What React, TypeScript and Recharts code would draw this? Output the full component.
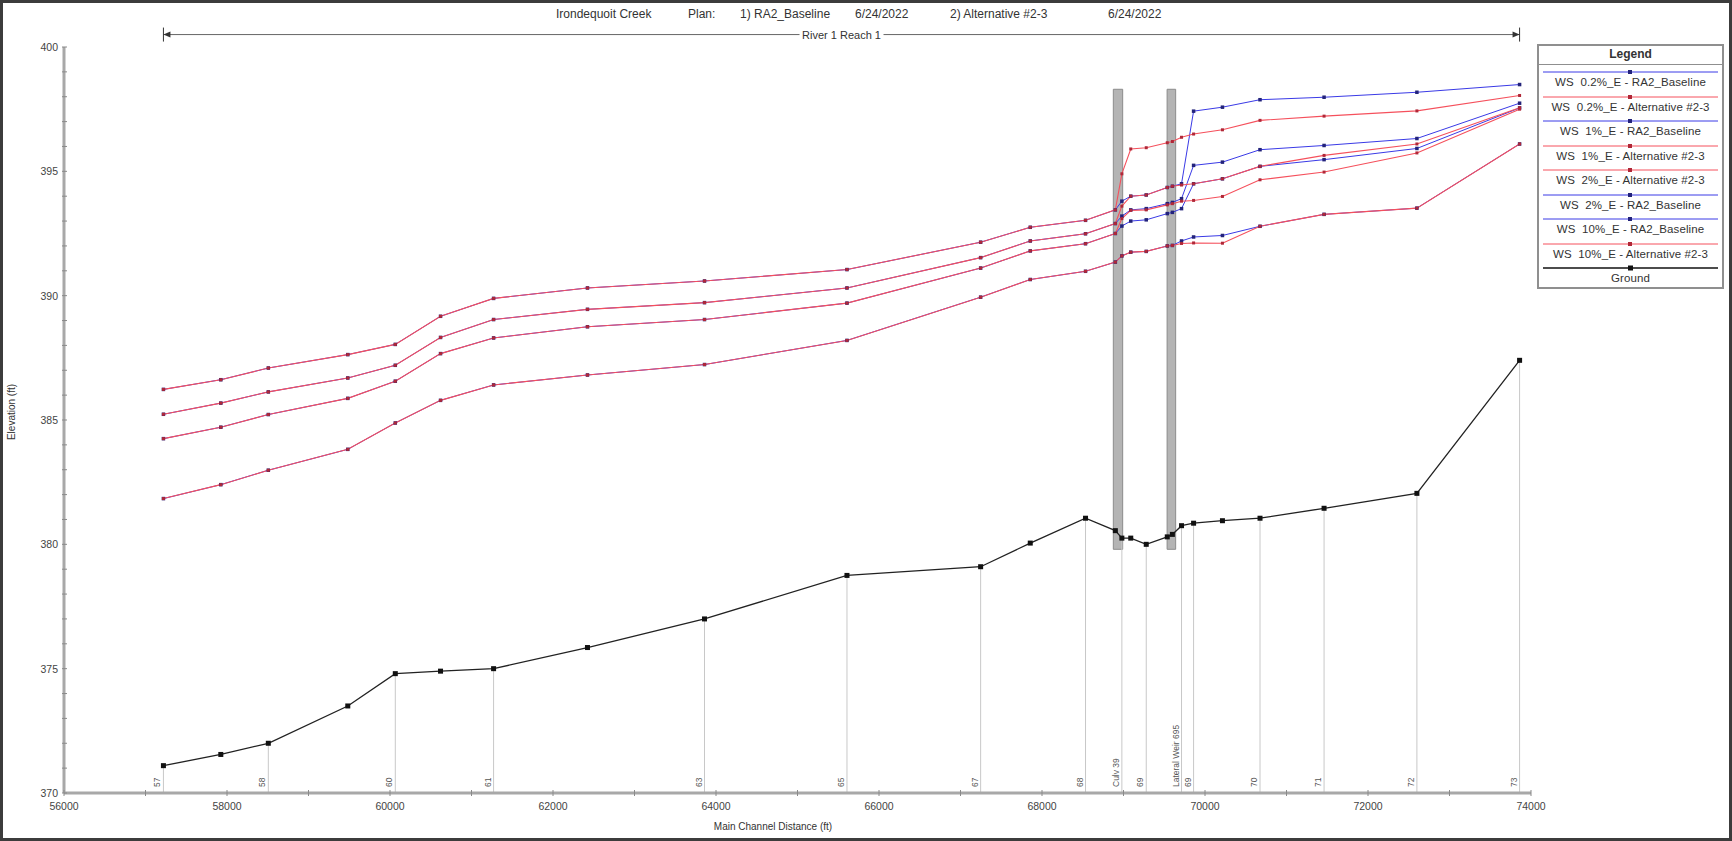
import React from "react";
import { LineChart, Line, XAxis, YAxis, ReferenceLine, ReferenceArea, ReferenceDot } from "recharts";

// main channel distance (ft) of every plotted cross section
const stations = [
  57220, 57924, 58507, 59482, 60065, 60620, 61271, 62423, 63859, 65607, 67247, 67856, 68534,
  68900, 68980, 69089, 69279, 69537, 69600, 69712, 69860, 70214, 70675, 71461, 72600, 73860,
];
const ground = [
  371.1, 371.55, 372.0, 373.5, 374.8, 374.9, 375.0, 375.85, 377.0, 378.75, 379.1, 380.05, 381.05,
  380.55, 380.25, 380.25, 380.0, 380.3, 380.4, 380.75, 380.85, 380.95, 381.05, 381.45, 382.05, 387.4,
];
const ws02Base = [
  386.23, 386.62, 387.09, 387.63, 388.04, 389.17, 389.89, 390.31, 390.59, 391.05, 392.15, 392.75, 393.03,
  393.45, 393.8, 394.0, 394.05, 394.35, 394.4, 394.5, 397.42, 397.58, 397.88, 397.98, 398.18, 398.49,
];
const ws02Alt = [
  386.23, 386.62, 387.09, 387.63, 388.04, 389.17, 389.89, 390.31, 390.59, 391.05, 392.15, 392.75, 393.03,
  393.45, 394.9, 395.9, 395.95, 396.15, 396.2, 396.37, 396.5, 396.67, 397.05, 397.22, 397.43, 398.05,
];
const ws1Base = [
  385.23, 385.68, 386.13, 386.69, 387.2, 388.32, 389.04, 389.45, 389.72, 390.31, 391.53, 392.2, 392.49,
  392.9, 393.2, 393.45, 393.5, 393.7, 393.75, 393.9, 395.24, 395.37, 395.87, 396.04, 396.32, 397.74,
];
const ws1Alt = [
  385.23, 385.68, 386.13, 386.69, 387.2, 388.32, 389.04, 389.45, 389.72, 390.31, 391.53, 392.2, 392.49,
  392.9, 393.6, 394.0, 394.05, 394.35, 394.4, 394.45, 394.5, 394.7, 395.2, 395.64, 396.1, 397.56,
];
const ws2Base = [
  384.25, 384.71, 385.22, 385.87, 386.56, 387.67, 388.3, 388.75, 389.04, 389.7, 391.11, 391.8, 392.09,
  392.5, 392.8, 393.0, 393.05, 393.3, 393.35, 393.5, 394.5, 394.7, 395.2, 395.47, 395.92, 397.55,
];
const ws2Alt = [
  384.25, 384.71, 385.22, 385.87, 386.56, 387.67, 388.3, 388.75, 389.04, 389.7, 391.11, 391.8, 392.09,
  392.5, 393.1, 393.43, 393.45, 393.65, 393.7, 393.8, 393.83, 393.99, 394.66, 394.97, 395.74, 397.5,
];
const ws10Base = [
  381.84, 382.4, 382.98, 383.82, 384.88, 385.79, 386.41, 386.81, 387.23, 388.2, 389.94, 390.65, 390.98,
  391.35, 391.6, 391.75, 391.78, 392.0, 392.02, 392.2, 392.36, 392.42, 392.79, 393.27, 393.52, 396.1,
];
const ws10Alt = [
  381.84, 382.4, 382.98, 383.82, 384.88, 385.79, 386.41, 386.81, 387.23, 388.2, 389.94, 390.65, 390.98,
  391.35, 391.6, 391.75, 391.78, 392.0, 392.02, 392.1, 392.12, 392.11, 392.79, 393.27, 393.52, 396.1,
];

// cross sections that get a drop line and a label
const xsIndex = [0, 2, 4, 6, 8, 9, 10, 12, 14, 16, 19, 20, 22, 23, 24, 25];
const xsLabels = ["57", "58", "60", "61", "63", "65", "67", "68", "Culv 39", "69", "Lateral Weir 695", "69", "70", "71", "72", "73"];

// bridge / culvert blocks: [from, to, top elevation]
const structures = [
  [68875, 68990, 398.3],
  [69535, 69640, 398.3],
];

const xTicks = [56000, 57000, 58000, 59000, 60000, 61000, 62000, 63000, 64000, 65000, 66000, 67000, 68000, 69000, 70000, 71000, 72000, 73000, 74000];
const yTicks = Array.from({ length: 31 }, (_, i) => 370 + i);

const BLUE = "#3a3ae6";
const RED = "#f5505c";

const series = [
  { key: "ws02Base", name: "WS  0.2%_E - RA2_Baseline", color: BLUE, values: ws02Base },
  { key: "ws02Alt", name: "WS  0.2%_E - Alternative #2-3", color: RED, values: ws02Alt },
  { key: "ws1Base", name: "WS  1%_E - RA2_Baseline", color: BLUE, values: ws1Base },
  { key: "ws1Alt", name: "WS  1%_E - Alternative #2-3", color: RED, values: ws1Alt },
  { key: "ws2Alt", name: "WS  2%_E - Alternative #2-3", color: RED, values: ws2Alt },
  { key: "ws2Base", name: "WS  2%_E - RA2_Baseline", color: BLUE, values: ws2Base },
  { key: "ws10Base", name: "WS  10%_E - RA2_Baseline", color: BLUE, values: ws10Base },
  { key: "ws10Alt", name: "WS  10%_E - Alternative #2-3", color: RED, values: ws10Alt },
];

const data = stations.map((s, i) => {
  const row: Record<string, number> = { station: s, ground: ground[i] };
  series.forEach((sr) => { row[sr.key] = sr.values[i]; });
  return row;
});

const FONT = "'Liberation Sans', Arial, sans-serif";

const square = (color: string, size: number) => (p: any) => {
  if (p.cx == null || p.cy == null) return <g key={p.key} />;
  return <rect key={p.key} x={p.cx - size / 2} y={p.cy - size / 2} width={size} height={size} fill={color} />;
};

const XTick = ({ x, y, payload }: any) => {
  const v = payload.value;
  return (
    <g>
      <line x1={x} x2={x} y1={y - 3} y2={y + 3} stroke="#8a8a8a" />
      {v % 2000 === 0 && (
        <text x={x} y={y + 17} textAnchor="middle" fontSize={10.5} fill="#444" fontFamily={FONT}>{v}</text>
      )}
    </g>
  );
};

const YTick = ({ x, y, payload }: any) => {
  const v = payload.value;
  return (
    <g>
      <line x1={x - 2} x2={x + 3} y1={y} y2={y} stroke="#8a8a8a" />
      {v % 5 === 0 && (
        <text x={x - 6} y={y + 4} textAnchor="end" fontSize={10.5} fill="#444" fontFamily={FONT}>{v}</text>
      )}
    </g>
  );
};

const riverMid = (stations[0] + stations[stations.length - 1]) / 2;

export default function App() {
  return (
    <div style={{ position: "fixed", left: 0, top: 0, width: 1732, height: 841, background: "#fff", fontFamily: FONT, color: "#333" }}>
      <LineChart width={1732} height={841} data={data} margin={{ top: 47, right: 201, bottom: 0, left: 0 }}>
        <XAxis
          type="number" dataKey="station" domain={[56000, 74000]} ticks={xTicks}
          height={48} tickSize={0} tickMargin={0} tick={<XTick />}
          axisLine={{ stroke: "#a8a8a8", strokeWidth: 3 }} tickLine={false} allowDataOverflow
        />
        <YAxis
          type="number" domain={[370, 400]} ticks={yTicks} width={64}
          tickSize={0} tickMargin={0} tick={<YTick />} interval={0}
          axisLine={{ stroke: "#a8a8a8", strokeWidth: 3 }} tickLine={false} allowDataOverflow
        />

        {xsIndex.map((idx, i) => (
          <ReferenceLine
            key={"xs" + i}
            segment={[{ x: stations[idx], y: 370 }, { x: stations[idx], y: ground[idx] }]}
            stroke="#c8c8c8" strokeWidth={1}
          />
        ))}
        {xsIndex.map((idx, i) => (
          <ReferenceDot
            key={"xl" + i} x={stations[idx]} y={370} r={0}
            shape={(p: any) => (
              <text
                x={p.cx - 3} y={p.cy - 6} fontSize={8.5} fill="#555" fontFamily={FONT} textAnchor="start"
                transform={`rotate(-90 ${p.cx - 3} ${p.cy - 6})`}
              >{xsLabels[i]}</text>
            )}
          />
        ))}

        {structures.map((s, i) => (
          <ReferenceArea
            key={"st" + i} x1={s[0]} x2={s[1]} y1={379.8} y2={s[2]}
            fill="#b4b4b4" fillOpacity={1} stroke="#8c8c8c" strokeWidth={1}
          />
        ))}

        <ReferenceLine
          segment={[{ x: stations[0], y: 400.5 }, { x: stations[stations.length - 1], y: 400.5 }]}
          stroke="#666" strokeWidth={1} ifOverflow="visible"
        />
        <ReferenceDot
          x={stations[0]} y={400.5} r={0} ifOverflow="visible"
          shape={(p: any) => (
            <g>
              <line x1={p.cx} x2={p.cx} y1={p.cy - 7} y2={p.cy + 7} stroke="#333" />
              <path d={`M${p.cx} ${p.cy} l7 -3 v6 z`} fill="#333" />
            </g>
          )}
        />
        <ReferenceDot
          x={stations[stations.length - 1]} y={400.5} r={0} ifOverflow="visible"
          shape={(p: any) => (
            <g>
              <line x1={p.cx} x2={p.cx} y1={p.cy - 7} y2={p.cy + 7} stroke="#333" />
              <path d={`M${p.cx} ${p.cy} l-7 -3 v6 z`} fill="#333" />
            </g>
          )}
        />
        <ReferenceDot
          x={riverMid} y={400.5} r={0} ifOverflow="visible"
          shape={(p: any) => (
            <g>
              <rect x={p.cx - 42} y={p.cy - 7} width={84} height={14} fill="#fff" />
              <text x={p.cx} y={p.cy + 4} textAnchor="middle" fontSize={11} fill="#333" fontFamily={FONT}>River 1 Reach 1</text>
            </g>
          )}
        />

        {series.filter((s) => s.color === BLUE).map((s) => (
          <Line key={s.key} type="linear" dataKey={s.key} stroke={s.color} strokeWidth={1}
            dot={square("#23237a", 3.5)} activeDot={false} isAnimationActive={false} />
        ))}
        {series.filter((s) => s.color === RED).map((s) => (
          <Line key={s.key} type="linear" dataKey={s.key} stroke={s.color} strokeWidth={1.1}
            dot={square("#b02838", 3)} activeDot={false} isAnimationActive={false} />
        ))}
        <Line type="linear" dataKey="ground" stroke="#222" strokeWidth={1.3}
          dot={square("#111", 5)} activeDot={false} isAnimationActive={false} />
      </LineChart>

      {/* header */}
      <div style={{ position: "absolute", top: 7, left: 0, width: 1732, height: 16, fontSize: 12, whiteSpace: "pre" }}>
        <span style={{ position: "absolute", left: 556 }}>Irondequoit Creek</span>
        <span style={{ position: "absolute", left: 688 }}>Plan:</span>
        <span style={{ position: "absolute", left: 740 }}>1) RA2_Baseline</span>
        <span style={{ position: "absolute", left: 855 }}>6/24/2022</span>
        <span style={{ position: "absolute", left: 950 }}>2) Alternative #2-3</span>
        <span style={{ position: "absolute", left: 1108 }}>6/24/2022</span>
      </div>

      <div style={{ position: "absolute", left: 0, top: 821, width: 1546, textAlign: "center", fontSize: 10 }}>
        Main Channel Distance (ft)
      </div>
      <div style={{ position: "absolute", left: 11, top: 412, fontSize: 10, transform: "translate(-50%, -50%) rotate(-90deg)", whiteSpace: "nowrap" }}>
        Elevation (ft)
      </div>

      {/* legend */}
      <div style={{ position: "absolute", left: 1537, top: 44, width: 187, height: 245, border: "2px solid #8f8f8f", boxSizing: "border-box", background: "#fff" }}>
        <div style={{ height: 18, borderBottom: "1px solid #8f8f8f", textAlign: "center", fontSize: 12, lineHeight: "17px", fontWeight: 600 }}>Legend</div>
        {[...series, { key: "ground", name: "Ground", color: "#111" }].map((s, i) => {
          const mk = s.key === "ground" ? "#111" : s.color === BLUE ? "#23237a" : "#b02838";
          return (
            <div key={s.key} style={{ position: "absolute", left: 0, top: 22 + i * 24.5, width: 183, height: 24 }}>
              <svg width={183} height={8} style={{ position: "absolute", left: 0, top: 0 }}>
                <line x1={4} x2={179} y1={4} y2={4} stroke={s.color} strokeWidth={s.key === "ground" ? 1.3 : 1} />
                <rect x={89} y={s.key === "ground" ? 1.5 : 2} width={s.key === "ground" ? 5 : 4} height={s.key === "ground" ? 5 : 4} fill={mk} />
              </svg>
              <div style={{ position: "absolute", top: 8, width: 183, textAlign: "center", fontSize: 11.5, whiteSpace: "pre", letterSpacing: 0.1 }}>{s.name}</div>
            </div>
          );
        })}
      </div>

      <div style={{ position: "absolute", left: 0, top: 0, width: 1732, height: 841, border: "3px solid #3c3c3c", boxSizing: "border-box", pointerEvents: "none" }} />
    </div>
  );
}
